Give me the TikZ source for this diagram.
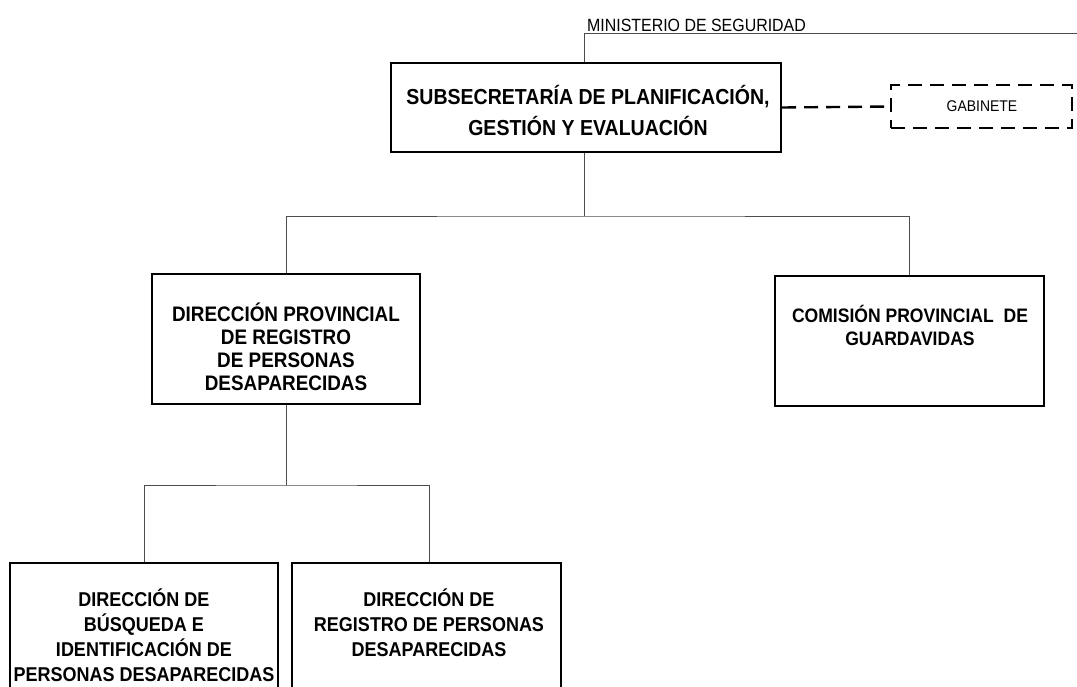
\documentclass[tikz,border=0pt]{standalone}
\usepackage{fontspec}
\setmainfont[FakeStretch=0.9]{Liberation Sans}
\begin{document}
\begin{tikzpicture}[x=1pt,y=-1pt,
  box/.style={draw=black, line width=2.4pt, inner sep=0pt, rectangle},
  dbox/.style={draw=black, line width=2.4pt, inner sep=0pt, rectangle, dash pattern=on 14pt off 8pt},
  conn/.style={draw=black!70, line width=0.9pt},
  dconn/.style={draw=black, line width=2.4pt, dash pattern=on 14pt off 8pt},
  big/.style={align=center, inner sep=0pt, font=\bfseries\fontsize{21.7}{31}\selectfont},
  mid/.style={align=center, inner sep=0pt, font=\bfseries\fontsize{21}{23}\selectfont},
  low/.style={align=center, inner sep=0pt, font=\bfseries\fontsize{20}{25}\selectfont},
  small/.style={inner sep=0pt, font=\fontsize{17.7}{20}\selectfont},
]
\useasboundingbox (0,0) rectangle (1077,686);
\clip (0,0) rectangle (1077,686);
\fill[white] (0,0) rectangle (1077,686);

% boxes
\node[box, minimum width=390pt, minimum height=89pt] (top) at (586,107.5) {};
\node[dbox, minimum width=181pt, minimum height=43pt] (gab) at (981.5,106.5) {};
\node[box, minimum width=268pt, minimum height=130pt] (ml) at (286,339) {};
\node[box, minimum width=269pt, minimum height=130pt] (mr) at (909.5,341) {};
\node[box, minimum width=268pt, minimum height=160pt, anchor=north] (bl) at (144,562) {};
\node[box, minimum width=269pt, minimum height=160pt, anchor=north] (br) at (426.5,562) {};

% texts
\node[small, anchor=base west] (min) at (587,31) {MINISTERIO DE SEGURIDAD};
\node[big] (topt) at (588,110) {SUBSECRETARÍA DE PLANIFICACIÓN,\\GESTIÓN Y EVALUACIÓN};
\node[small, font=\fontsize{15.5}{18}\selectfont] (gabt) at (982,106.5) {GABINETE};
\node[mid] (mlt) at (286,347) {DIRECCIÓN PROVINCIAL\\DE REGISTRO\\DE PERSONAS\\DESAPARECIDAS};
\node[mid, font=\bfseries\fontsize{19.5}{23}\selectfont] (mrt) at (910,325) {COMISIÓN PROVINCIAL\ \ DE\\GUARDAVIDAS};
\node[low] (blt) at (144,635) {DIRECCIÓN DE\\BÚSQUEDA E\\IDENTIFICACIÓN DE\\PERSONAS DESAPARECIDAS};
\node[low] (brt) at (429,623) {DIRECCIÓN DE\\REGISTRO DE PERSONAS\\DESAPARECIDAS};

% connectors
\coordinate (minr) at (1077,33);
\coordinate (bus1) at (584,216);
\coordinate (bus2) at (286,485);
\draw[conn] ([xshift=-2pt]top.north) |- (minr);
\draw[conn] ([xshift=-2pt]top.south) -- ([xshift=-2pt]top.south |- bus1);
\draw[conn] (ml.north) |- (bus1) -| (mr.north);
\draw[dconn] (top.east) -- (gab.west);
\draw[conn] (ml.south) -- (bus2);
\draw[conn] (bl.north) |- (bus2) -| ([xshift=2.5pt]br.north);
\end{tikzpicture}
\end{document}
